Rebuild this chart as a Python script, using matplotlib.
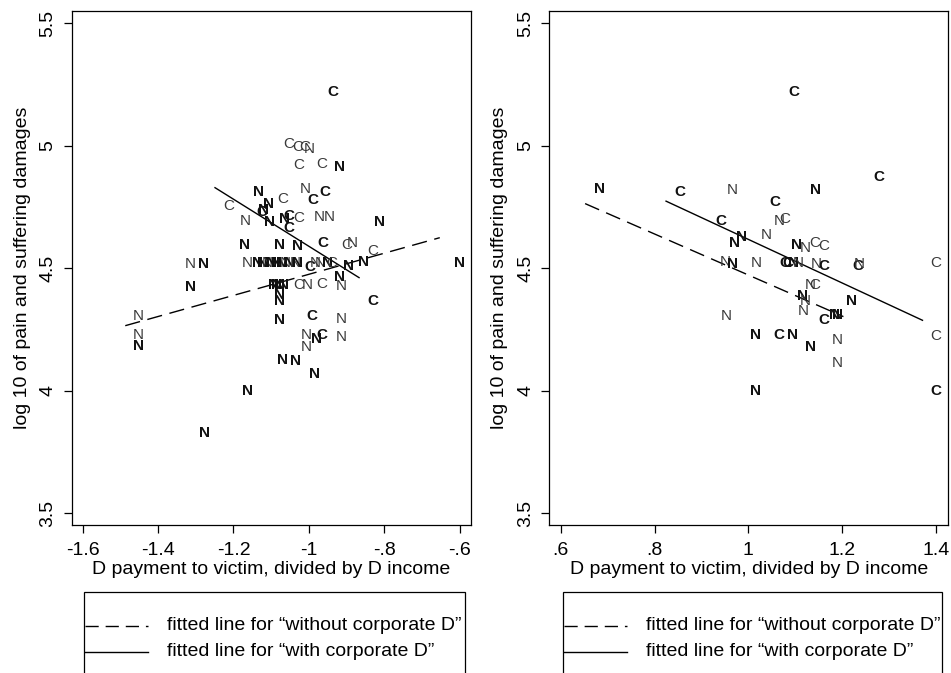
import matplotlib
matplotlib.use("Agg")
import matplotlib.pyplot as plt
from matplotlib import font_manager
from matplotlib.lines import Line2D
from matplotlib.patches import Rectangle

# left panel: D payment / D income (negative side)
left_x = [-0.937, -1.054, -1.030, -1.011, -0.999, -1.026, -0.967, -0.918, -1.011, -0.958,
          -0.989, -1.133, -1.070, -1.213, -1.108, -1.121, -1.126, -1.170, -1.105, -1.066,
          -1.054, -1.026, -0.973, -0.946, -1.054, -0.814, -1.170, -1.077, -1.031, -0.964,
          -0.899, -0.886, -0.831, -0.854, -0.600, -1.314, -1.280, -1.164, -1.137, -1.122,
          -1.111, -1.098, -1.085, -1.072, -1.064, -1.051, -1.037, -1.029, -0.998, -0.984,
          -0.971, -0.952, -0.939, -0.895, -1.095, -1.086, -1.077, -1.068, -1.026, -1.005,
          -0.967, -0.918, -0.914, -1.314, -1.077, -1.077, -0.831, -1.452, -1.452, -1.452,
          -1.077, -0.992, -0.914, -1.008, -0.980, -0.966, -1.006, -0.914, -1.070, -1.035,
          -0.985, -1.163, -1.278]
left_y = [5.220, 5.007, 4.996, 4.996, 4.988, 4.922, 4.927, 4.912, 4.825, 4.813,
          4.779, 4.811, 4.784, 4.755, 4.763, 4.738, 4.731, 4.694, 4.687, 4.702,
          4.713, 4.705, 4.709, 4.709, 4.665, 4.687, 4.596, 4.596, 4.590, 4.605,
          4.596, 4.603, 4.570, 4.526, 4.520, 4.517, 4.517, 4.520, 4.520, 4.520,
          4.520, 4.520, 4.520, 4.520, 4.520, 4.520, 4.520, 4.520, 4.505, 4.520,
          4.520, 4.520, 4.520, 4.510, 4.433, 4.433, 4.433, 4.433, 4.433, 4.433,
          4.436, 4.465, 4.426, 4.424, 4.390, 4.368, 4.368, 4.307, 4.230, 4.184,
          4.288, 4.305, 4.295, 4.226, 4.213, 4.230, 4.179, 4.220, 4.128, 4.121,
          4.070, 4.001, 3.827]
left_lab = list("CCCCNCCNNC" "CNCCNNCNNN" "CCNNCNNNNC" "CNCNNNNNNN" "NNNNNNNNCN"
                "NNCNNNNNCN" "CNNNNNCNNN" "NCNNNCNNNN" "NNN")
left_bold = [1, 0, 0, 0, 0, 0, 0, 1, 0, 1,
             1, 1, 0, 0, 1, 1, 1, 0, 1, 1,
             1, 0, 0, 0, 1, 1, 1, 1, 1, 1,
             0, 0, 0, 1, 1, 0, 1, 0, 1, 1,
             0, 1, 1, 1, 0, 1, 0, 1, 1, 0,
             0, 1, 0, 1, 1, 1, 1, 1, 0, 0,
             0, 1, 0, 1, 1, 1, 1, 0, 0, 1,
             1, 1, 0, 0, 1, 1, 0, 0, 1, 1,
             1, 1, 1]

# right panel
right_x = [1.097, 1.279, 0.682, 0.853, 0.965, 1.144, 1.057, 1.066, 1.078, 0.942,
           0.986, 0.970, 1.039, 1.102, 1.121, 1.141, 1.160, 0.950, 0.967, 1.016,
           1.078, 1.085, 1.096, 1.107, 1.144, 1.160, 1.233, 1.236, 1.400, 1.131,
           1.142, 1.116, 1.122, 1.220, 1.116, 1.183, 1.190, 1.160, 0.952, 1.016,
           1.064, 1.094, 1.133, 1.190, 1.190, 1.400, 1.016, 1.400]
right_y = [5.220, 4.872, 4.825, 4.811, 4.818, 4.818, 4.771, 4.694, 4.702, 4.694,
           4.629, 4.603, 4.634, 4.596, 4.581, 4.605, 4.590, 4.525, 4.517, 4.520,
           4.520, 4.520, 4.520, 4.520, 4.517, 4.509, 4.509, 4.517, 4.520, 4.433,
           4.433, 4.387, 4.368, 4.368, 4.324, 4.310, 4.310, 4.288, 4.307, 4.226,
           4.226, 4.226, 4.179, 4.208, 4.114, 4.223, 4.001, 4.001]
right_lab = list("CCNCNNCNCC" "NNNNNCCNNN" "CCNNNCCNCN" "CNNNNNNCNN" "CNNNNCNC")
right_bold = [1, 1, 1, 1, 0, 1, 1, 0, 0, 1,
              1, 1, 0, 1, 0, 0, 0, 0, 1, 0,
              1, 1, 1, 0, 0, 1, 1, 0, 0, 0,
              0, 1, 0, 1, 0, 1, 1, 1, 0, 1,
              1, 1, 1, 0, 0, 0, 1, 1]

# fitted lines (end points)
left_fit_without_x = [-1.487, -0.653]
left_fit_without_y = [4.266, 4.625]
left_fit_with_x = [-1.249, -0.867]
left_fit_with_y = [4.829, 4.462]
right_fit_without_x = [0.652, 1.2025]
right_fit_without_y = [4.764, 4.303]
right_fit_with_x = [0.8245, 1.371]
right_fit_with_y = [4.774, 4.288]

left_xticks = [-1.6, -1.4, -1.2, -1.0, -0.8, -0.6]
left_xticklabels = ["-1.6", "-1.4", "-1.2", "-1", "-.8", "-.6"]
right_xticks = [0.6, 0.8, 1.0, 1.2, 1.4]
right_xticklabels = [".6", ".8", "1", "1.2", "1.4"]
yticks = [3.5, 4.0, 4.5, 5.0, 5.5]
yticklabels = ["3.5", "4", "4.5", "5", "5.5"]

xlabel = "D payment to victim, divided by D income"
ylabel = "log 10 of pain and suffering damages"
legend_labels = ["fitted line for \u201cwithout corporate D\u201d",
                 "fitted line for \u201cwith corporate D\u201d"]

names = {f.name for f in font_manager.fontManager.ttflist}
if "Liberation Sans Narrow" in names:
    FONT = ["Liberation Sans Narrow", "DejaVu Sans"]
    FS, MS = 16.5, 12.5
else:
    FONT = ["Liberation Sans", "DejaVu Sans"]
    FS, MS = 14.0, 11.0
plt.rcParams["font.family"] = FONT

W, H = 951, 673
fig = plt.figure(figsize=(W / 100, H / 100), dpi=100)

DASH = (11, 5.5)      # fitted lines in the plot
LEG_DASH = (9.5, 5)   # legend sample, ends in a dot
GREY = "#3a3a3a"


def fx(px):
    return px / W


def fy(py):
    return 1 - py / H


def panel(left_px, xs, ys, labs, bolds, xlim, xticks, xticklabels,
          wo_x, wo_y, w_x, w_y, box_px):
    ax = fig.add_axes([fx(left_px), fy(525), 399 / W, 513.6 / H])
    ax.set_xlim(*xlim)
    ax.set_ylim(3.453, 5.548)
    for x, y, lab, b in zip(xs, ys, labs, bolds):
        ax.text(x, y, lab, ha="center", va="center", fontsize=MS,
                fontweight="bold" if b else "normal",
                color="#111111" if b else GREY, family=FONT)
    ax.plot(wo_x, wo_y, color="black", lw=1.0, dashes=DASH)
    ax.plot(w_x, w_y, color="black", lw=1.0)
    ax.set_xticks(xticks)
    ax.set_xticklabels(xticklabels)
    ax.set_yticks(yticks)
    ax.set_yticklabels(yticklabels, rotation=90, va="center")
    ax.tick_params(direction="out", length=6, width=0.9, labelsize=FS, pad=6,
                   colors="black")
    ax.tick_params(axis="y", pad=5)
    for s in ax.spines.values():
        s.set_linewidth(0.9)
    ax.set_xlabel(xlabel, fontsize=FS)
    ax.xaxis.label.set_va("center")
    ax.xaxis.set_label_coords(0.5, (525 - 569) / 513.6)
    ax.set_ylabel(ylabel, fontsize=FS)
    ax.yaxis.label.set_va("center")
    ax.yaxis.set_label_coords(-0.124, 0.5)

    # legend box, cut off by the bottom of the picture
    bx0, bx1 = box_px
    fig.add_artist(Rectangle((fx(bx0), fy(700)), fx(bx1 - bx0), (700 - 592) / H,
                             transform=fig.transFigure, fill=False,
                             edgecolor="black", lw=0.9))
    fig.add_artist(Line2D([fx(bx0 + 1), fx(bx0 + 64)], [fy(626), fy(626)],
                          transform=fig.transFigure, color="black", lw=1.0,
                          dashes=LEG_DASH))
    fig.add_artist(Line2D([fx(bx0 + 1), fx(bx0 + 64)], [fy(652), fy(652)],
                          transform=fig.transFigure, color="black", lw=1.0))
    fig.text(fx(bx0 + 83), fy(626), legend_labels[0], fontsize=FS,
             ha="left", va="center")
    fig.text(fx(bx0 + 83), fy(652), legend_labels[1], fontsize=FS,
             ha="left", va="center")
    return ax


panel(71.7, left_x, left_y, left_lab, left_bold, (-1.629, -0.571),
      left_xticks, left_xticklabels,
      left_fit_without_x, left_fit_without_y, left_fit_with_x, left_fit_with_y,
      (84, 465))
panel(549.3, right_x, right_y, right_lab, right_bold, (0.5757, 1.426),
      right_xticks, right_xticklabels,
      right_fit_without_x, right_fit_without_y, right_fit_with_x, right_fit_with_y,
      (563, 942))

fig.savefig("out.png", dpi=100)
